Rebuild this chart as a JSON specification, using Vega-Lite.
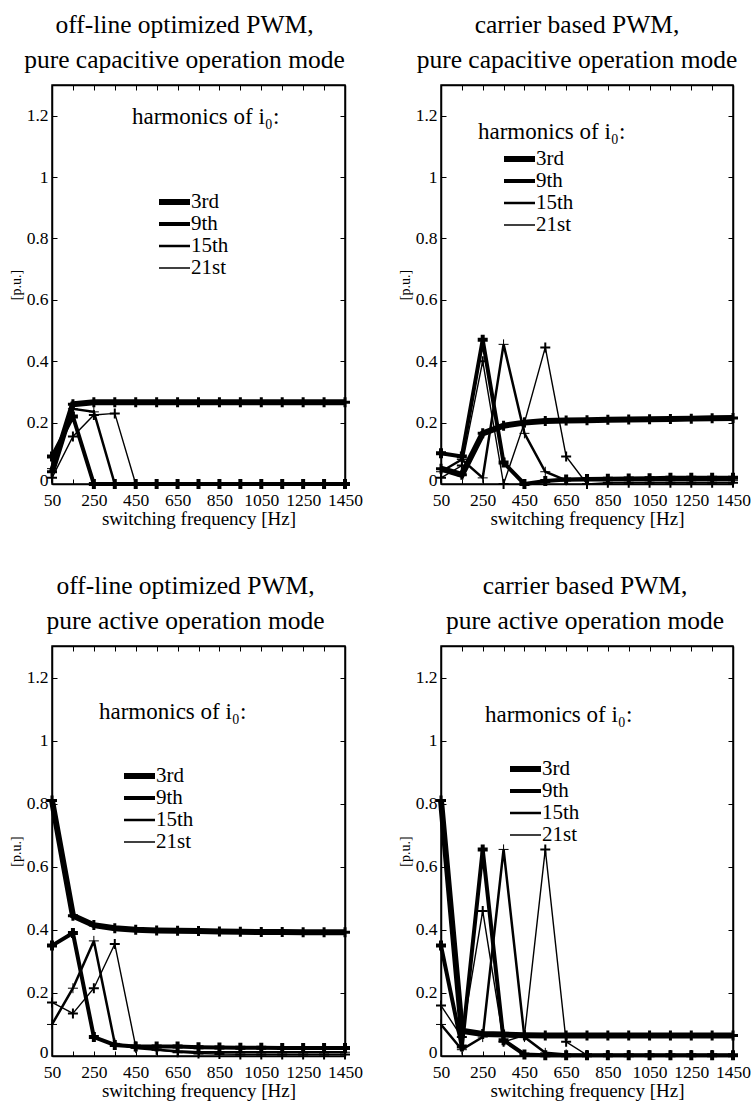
{
  "$schema": "https://vega.github.io/schema/vega-lite/v6.json",
  "background": "white",
  "padding": {"left": 8, "top": 12, "right": 0, "bottom": 0},
  "datasets": {
    "harm": [
      {"panel":"ocap","harmonic":"3rd","f":50,"v":0.04},{"panel":"ocap","harmonic":"3rd","f":150,"v":0.26},{"panel":"ocap","harmonic":"3rd","f":250,"v":0.266},{"panel":"ocap","harmonic":"3rd","f":350,"v":0.266},{"panel":"ocap","harmonic":"3rd","f":450,"v":0.266},{"panel":"ocap","harmonic":"3rd","f":550,"v":0.266},{"panel":"ocap","harmonic":"3rd","f":650,"v":0.266},{"panel":"ocap","harmonic":"3rd","f":750,"v":0.266},{"panel":"ocap","harmonic":"3rd","f":850,"v":0.266},{"panel":"ocap","harmonic":"3rd","f":950,"v":0.266},{"panel":"ocap","harmonic":"3rd","f":1050,"v":0.266},{"panel":"ocap","harmonic":"3rd","f":1150,"v":0.266},{"panel":"ocap","harmonic":"3rd","f":1250,"v":0.266},{"panel":"ocap","harmonic":"3rd","f":1350,"v":0.266},{"panel":"ocap","harmonic":"3rd","f":1450,"v":0.266},
      {"panel":"ocap","harmonic":"9th","f":50,"v":0.09},{"panel":"ocap","harmonic":"9th","f":150,"v":0.22},{"panel":"ocap","harmonic":"9th","f":250,"v":0.0},{"panel":"ocap","harmonic":"9th","f":350,"v":0.0},{"panel":"ocap","harmonic":"9th","f":450,"v":0.0},{"panel":"ocap","harmonic":"9th","f":550,"v":0.0},{"panel":"ocap","harmonic":"9th","f":650,"v":0.0},{"panel":"ocap","harmonic":"9th","f":750,"v":0.0},{"panel":"ocap","harmonic":"9th","f":850,"v":0.0},{"panel":"ocap","harmonic":"9th","f":950,"v":0.0},{"panel":"ocap","harmonic":"9th","f":1050,"v":0.0},{"panel":"ocap","harmonic":"9th","f":1150,"v":0.0},{"panel":"ocap","harmonic":"9th","f":1250,"v":0.0},{"panel":"ocap","harmonic":"9th","f":1350,"v":0.0},{"panel":"ocap","harmonic":"9th","f":1450,"v":0.0},
      {"panel":"ocap","harmonic":"15th","f":50,"v":0.05},{"panel":"ocap","harmonic":"15th","f":150,"v":0.245},{"panel":"ocap","harmonic":"15th","f":250,"v":0.235},{"panel":"ocap","harmonic":"15th","f":350,"v":0.0},{"panel":"ocap","harmonic":"15th","f":450,"v":0.0},{"panel":"ocap","harmonic":"15th","f":550,"v":0.0},{"panel":"ocap","harmonic":"15th","f":650,"v":0.0},{"panel":"ocap","harmonic":"15th","f":750,"v":0.0},{"panel":"ocap","harmonic":"15th","f":850,"v":0.0},{"panel":"ocap","harmonic":"15th","f":950,"v":0.0},{"panel":"ocap","harmonic":"15th","f":1050,"v":0.0},{"panel":"ocap","harmonic":"15th","f":1150,"v":0.0},{"panel":"ocap","harmonic":"15th","f":1250,"v":0.0},{"panel":"ocap","harmonic":"15th","f":1350,"v":0.0},{"panel":"ocap","harmonic":"15th","f":1450,"v":0.0},
      {"panel":"ocap","harmonic":"21st","f":50,"v":0.02},{"panel":"ocap","harmonic":"21st","f":150,"v":0.155},{"panel":"ocap","harmonic":"21st","f":250,"v":0.225},{"panel":"ocap","harmonic":"21st","f":350,"v":0.23},{"panel":"ocap","harmonic":"21st","f":450,"v":0.0},{"panel":"ocap","harmonic":"21st","f":550,"v":0.0},{"panel":"ocap","harmonic":"21st","f":650,"v":0.0},{"panel":"ocap","harmonic":"21st","f":750,"v":0.0},{"panel":"ocap","harmonic":"21st","f":850,"v":0.0},{"panel":"ocap","harmonic":"21st","f":950,"v":0.0},{"panel":"ocap","harmonic":"21st","f":1050,"v":0.0},{"panel":"ocap","harmonic":"21st","f":1150,"v":0.0},{"panel":"ocap","harmonic":"21st","f":1250,"v":0.0},{"panel":"ocap","harmonic":"21st","f":1350,"v":0.0},{"panel":"ocap","harmonic":"21st","f":1450,"v":0.0},

      {"panel":"ccap","harmonic":"3rd","f":50,"v":0.05},{"panel":"ccap","harmonic":"3rd","f":150,"v":0.03},{"panel":"ccap","harmonic":"3rd","f":250,"v":0.165},{"panel":"ccap","harmonic":"3rd","f":350,"v":0.19},{"panel":"ccap","harmonic":"3rd","f":450,"v":0.2},{"panel":"ccap","harmonic":"3rd","f":550,"v":0.205},{"panel":"ccap","harmonic":"3rd","f":650,"v":0.207},{"panel":"ccap","harmonic":"3rd","f":750,"v":0.208},{"panel":"ccap","harmonic":"3rd","f":850,"v":0.209},{"panel":"ccap","harmonic":"3rd","f":950,"v":0.21},{"panel":"ccap","harmonic":"3rd","f":1050,"v":0.211},{"panel":"ccap","harmonic":"3rd","f":1150,"v":0.212},{"panel":"ccap","harmonic":"3rd","f":1250,"v":0.213},{"panel":"ccap","harmonic":"3rd","f":1350,"v":0.214},{"panel":"ccap","harmonic":"3rd","f":1450,"v":0.215},
      {"panel":"ccap","harmonic":"9th","f":50,"v":0.1},{"panel":"ccap","harmonic":"9th","f":150,"v":0.09},{"panel":"ccap","harmonic":"9th","f":250,"v":0.47},{"panel":"ccap","harmonic":"9th","f":350,"v":0.07},{"panel":"ccap","harmonic":"9th","f":450,"v":0.0},{"panel":"ccap","harmonic":"9th","f":550,"v":0.01},{"panel":"ccap","harmonic":"9th","f":650,"v":0.015},{"panel":"ccap","harmonic":"9th","f":750,"v":0.016},{"panel":"ccap","harmonic":"9th","f":850,"v":0.017},{"panel":"ccap","harmonic":"9th","f":950,"v":0.018},{"panel":"ccap","harmonic":"9th","f":1050,"v":0.019},{"panel":"ccap","harmonic":"9th","f":1150,"v":0.02},{"panel":"ccap","harmonic":"9th","f":1250,"v":0.02},{"panel":"ccap","harmonic":"9th","f":1350,"v":0.02},{"panel":"ccap","harmonic":"9th","f":1450,"v":0.02},
      {"panel":"ccap","harmonic":"15th","f":50,"v":0.04},{"panel":"ccap","harmonic":"15th","f":150,"v":0.08},{"panel":"ccap","harmonic":"15th","f":250,"v":0.02},{"panel":"ccap","harmonic":"15th","f":350,"v":0.455},{"panel":"ccap","harmonic":"15th","f":450,"v":0.165},{"panel":"ccap","harmonic":"15th","f":550,"v":0.04},{"panel":"ccap","harmonic":"15th","f":650,"v":0.012},{"panel":"ccap","harmonic":"15th","f":750,"v":0.012},{"panel":"ccap","harmonic":"15th","f":850,"v":0.012},{"panel":"ccap","harmonic":"15th","f":950,"v":0.012},{"panel":"ccap","harmonic":"15th","f":1050,"v":0.012},{"panel":"ccap","harmonic":"15th","f":1150,"v":0.012},{"panel":"ccap","harmonic":"15th","f":1250,"v":0.012},{"panel":"ccap","harmonic":"15th","f":1350,"v":0.012},{"panel":"ccap","harmonic":"15th","f":1450,"v":0.012},
      {"panel":"ccap","harmonic":"21st","f":50,"v":0.02},{"panel":"ccap","harmonic":"21st","f":150,"v":0.06},{"panel":"ccap","harmonic":"21st","f":250,"v":0.4},{"panel":"ccap","harmonic":"21st","f":350,"v":0.0},{"panel":"ccap","harmonic":"21st","f":450,"v":0.2},{"panel":"ccap","harmonic":"21st","f":550,"v":0.445},{"panel":"ccap","harmonic":"21st","f":650,"v":0.09},{"panel":"ccap","harmonic":"21st","f":750,"v":0.0},{"panel":"ccap","harmonic":"21st","f":850,"v":0.004},{"panel":"ccap","harmonic":"21st","f":950,"v":0.004},{"panel":"ccap","harmonic":"21st","f":1050,"v":0.004},{"panel":"ccap","harmonic":"21st","f":1150,"v":0.004},{"panel":"ccap","harmonic":"21st","f":1250,"v":0.004},{"panel":"ccap","harmonic":"21st","f":1350,"v":0.004},{"panel":"ccap","harmonic":"21st","f":1450,"v":0.004},

      {"panel":"oact","harmonic":"3rd","f":50,"v":0.81},{"panel":"oact","harmonic":"3rd","f":150,"v":0.445},{"panel":"oact","harmonic":"3rd","f":250,"v":0.415},{"panel":"oact","harmonic":"3rd","f":350,"v":0.405},{"panel":"oact","harmonic":"3rd","f":450,"v":0.4},{"panel":"oact","harmonic":"3rd","f":550,"v":0.398},{"panel":"oact","harmonic":"3rd","f":650,"v":0.397},{"panel":"oact","harmonic":"3rd","f":750,"v":0.396},{"panel":"oact","harmonic":"3rd","f":850,"v":0.395},{"panel":"oact","harmonic":"3rd","f":950,"v":0.394},{"panel":"oact","harmonic":"3rd","f":1050,"v":0.393},{"panel":"oact","harmonic":"3rd","f":1150,"v":0.393},{"panel":"oact","harmonic":"3rd","f":1250,"v":0.392},{"panel":"oact","harmonic":"3rd","f":1350,"v":0.392},{"panel":"oact","harmonic":"3rd","f":1450,"v":0.392},
      {"panel":"oact","harmonic":"9th","f":50,"v":0.35},{"panel":"oact","harmonic":"9th","f":150,"v":0.39},{"panel":"oact","harmonic":"9th","f":250,"v":0.06},{"panel":"oact","harmonic":"9th","f":350,"v":0.035},{"panel":"oact","harmonic":"9th","f":450,"v":0.03},{"panel":"oact","harmonic":"9th","f":550,"v":0.03},{"panel":"oact","harmonic":"9th","f":650,"v":0.03},{"panel":"oact","harmonic":"9th","f":750,"v":0.028},{"panel":"oact","harmonic":"9th","f":850,"v":0.027},{"panel":"oact","harmonic":"9th","f":950,"v":0.026},{"panel":"oact","harmonic":"9th","f":1050,"v":0.026},{"panel":"oact","harmonic":"9th","f":1150,"v":0.025},{"panel":"oact","harmonic":"9th","f":1250,"v":0.025},{"panel":"oact","harmonic":"9th","f":1350,"v":0.025},{"panel":"oact","harmonic":"9th","f":1450,"v":0.025},
      {"panel":"oact","harmonic":"15th","f":50,"v":0.1},{"panel":"oact","harmonic":"15th","f":150,"v":0.215},{"panel":"oact","harmonic":"15th","f":250,"v":0.365},{"panel":"oact","harmonic":"15th","f":350,"v":0.04},{"panel":"oact","harmonic":"15th","f":450,"v":0.025},{"panel":"oact","harmonic":"15th","f":550,"v":0.02},{"panel":"oact","harmonic":"15th","f":650,"v":0.015},{"panel":"oact","harmonic":"15th","f":750,"v":0.012},{"panel":"oact","harmonic":"15th","f":850,"v":0.012},{"panel":"oact","harmonic":"15th","f":950,"v":0.012},{"panel":"oact","harmonic":"15th","f":1050,"v":0.012},{"panel":"oact","harmonic":"15th","f":1150,"v":0.012},{"panel":"oact","harmonic":"15th","f":1250,"v":0.012},{"panel":"oact","harmonic":"15th","f":1350,"v":0.012},{"panel":"oact","harmonic":"15th","f":1450,"v":0.012},
      {"panel":"oact","harmonic":"21st","f":50,"v":0.17},{"panel":"oact","harmonic":"21st","f":150,"v":0.135},{"panel":"oact","harmonic":"21st","f":250,"v":0.215},{"panel":"oact","harmonic":"21st","f":350,"v":0.355},{"panel":"oact","harmonic":"21st","f":450,"v":0.03},{"panel":"oact","harmonic":"21st","f":550,"v":0.02},{"panel":"oact","harmonic":"21st","f":650,"v":0.012},{"panel":"oact","harmonic":"21st","f":750,"v":0.008},{"panel":"oact","harmonic":"21st","f":850,"v":0.006},{"panel":"oact","harmonic":"21st","f":950,"v":0.005},{"panel":"oact","harmonic":"21st","f":1050,"v":0.005},{"panel":"oact","harmonic":"21st","f":1150,"v":0.005},{"panel":"oact","harmonic":"21st","f":1250,"v":0.005},{"panel":"oact","harmonic":"21st","f":1350,"v":0.005},{"panel":"oact","harmonic":"21st","f":1450,"v":0.005},

      {"panel":"cact","harmonic":"3rd","f":50,"v":0.81},{"panel":"cact","harmonic":"3rd","f":150,"v":0.08},{"panel":"cact","harmonic":"3rd","f":250,"v":0.07},{"panel":"cact","harmonic":"3rd","f":350,"v":0.068},{"panel":"cact","harmonic":"3rd","f":450,"v":0.066},{"panel":"cact","harmonic":"3rd","f":550,"v":0.065},{"panel":"cact","harmonic":"3rd","f":650,"v":0.065},{"panel":"cact","harmonic":"3rd","f":750,"v":0.065},{"panel":"cact","harmonic":"3rd","f":850,"v":0.065},{"panel":"cact","harmonic":"3rd","f":950,"v":0.065},{"panel":"cact","harmonic":"3rd","f":1050,"v":0.065},{"panel":"cact","harmonic":"3rd","f":1150,"v":0.065},{"panel":"cact","harmonic":"3rd","f":1250,"v":0.065},{"panel":"cact","harmonic":"3rd","f":1350,"v":0.065},{"panel":"cact","harmonic":"3rd","f":1450,"v":0.065},
      {"panel":"cact","harmonic":"9th","f":50,"v":0.35},{"panel":"cact","harmonic":"9th","f":150,"v":0.03},{"panel":"cact","harmonic":"9th","f":250,"v":0.655},{"panel":"cact","harmonic":"9th","f":350,"v":0.05},{"panel":"cact","harmonic":"9th","f":450,"v":0.005},{"panel":"cact","harmonic":"9th","f":550,"v":0.002},{"panel":"cact","harmonic":"9th","f":650,"v":0.002},{"panel":"cact","harmonic":"9th","f":750,"v":0.002},{"panel":"cact","harmonic":"9th","f":850,"v":0.002},{"panel":"cact","harmonic":"9th","f":950,"v":0.002},{"panel":"cact","harmonic":"9th","f":1050,"v":0.002},{"panel":"cact","harmonic":"9th","f":1150,"v":0.002},{"panel":"cact","harmonic":"9th","f":1250,"v":0.002},{"panel":"cact","harmonic":"9th","f":1350,"v":0.002},{"panel":"cact","harmonic":"9th","f":1450,"v":0.002},
      {"panel":"cact","harmonic":"15th","f":50,"v":0.1},{"panel":"cact","harmonic":"15th","f":150,"v":0.02},{"panel":"cact","harmonic":"15th","f":250,"v":0.06},{"panel":"cact","harmonic":"15th","f":350,"v":0.655},{"panel":"cact","harmonic":"15th","f":450,"v":0.06},{"panel":"cact","harmonic":"15th","f":550,"v":0.01},{"panel":"cact","harmonic":"15th","f":650,"v":0.005},{"panel":"cact","harmonic":"15th","f":750,"v":0.003},{"panel":"cact","harmonic":"15th","f":850,"v":0.003},{"panel":"cact","harmonic":"15th","f":950,"v":0.003},{"panel":"cact","harmonic":"15th","f":1050,"v":0.003},{"panel":"cact","harmonic":"15th","f":1150,"v":0.003},{"panel":"cact","harmonic":"15th","f":1250,"v":0.003},{"panel":"cact","harmonic":"15th","f":1350,"v":0.003},{"panel":"cact","harmonic":"15th","f":1450,"v":0.003},
      {"panel":"cact","harmonic":"21st","f":50,"v":0.16},{"panel":"cact","harmonic":"21st","f":150,"v":0.06},{"panel":"cact","harmonic":"21st","f":250,"v":0.46},{"panel":"cact","harmonic":"21st","f":350,"v":0.045},{"panel":"cact","harmonic":"21st","f":450,"v":0.065},{"panel":"cact","harmonic":"21st","f":550,"v":0.655},{"panel":"cact","harmonic":"21st","f":650,"v":0.045},{"panel":"cact","harmonic":"21st","f":750,"v":0.003},{"panel":"cact","harmonic":"21st","f":850,"v":0.003},{"panel":"cact","harmonic":"21st","f":950,"v":0.003},{"panel":"cact","harmonic":"21st","f":1050,"v":0.003},{"panel":"cact","harmonic":"21st","f":1150,"v":0.003},{"panel":"cact","harmonic":"21st","f":1250,"v":0.003},{"panel":"cact","harmonic":"21st","f":1350,"v":0.003},{"panel":"cact","harmonic":"21st","f":1450,"v":0.003}
    ]
  },
  "columns": 2,
  "spacing": {"row": 162, "column": 96},
  "bounds": "flush",
  "concat": [
    {
      "title": {"text": ["off-line optimized PWM,", "pure capacitive operation mode"], "dx": -14},
      "width": 293, "height": 399,
      "data": {"name": "harm"},
      "transform": [{"filter": "datum.panel === 'ocap'"}],
      "layer": [
        {
          "mark": {"type": "line", "color": "black", "strokeJoin": "miter", "strokeMiterLimit": 3},
          "encoding": {
            "x": {"field": "f", "type": "quantitative", "scale": {"domain": [50, 1450], "nice": false, "zero": false},
                  "axis": {"orient": "bottom", "title": "switching frequency [Hz]", "format": "d", "values": [50,150,250,350,450,550,650,750,850,950,1050,1150,1250,1350,1450], "labelExpr": "(datum.value - 50) % 200 === 0 ? datum.label : ''"}},
            "y": {"field": "v", "type": "quantitative", "scale": {"domain": [0, 1.3], "nice": false},
                  "axis": {"orient": "left", "title": "[p.u.]", "values": [0,0.2,0.4,0.6,0.8,1,1.2], "format": "~g", "labelOffset": {"condition": {"test": "datum.value === 0", "value": -4}, "value": 0}}},
            "strokeWidth": {"field": "harmonic", "type": "ordinal",
                  "scale": {"type": "ordinal", "domain": ["3rd","9th","15th","21st"], "range": [6, 4, 2.5, 1.4]},
                  "legend": {"title": "harmonics of i₀:", "legendX": 80, "legendY": 21, "titlePadding": 62, "symbolOffset": 24}}
          }
        },
        {
          "mark": {"type": "point", "shape": "M-1,0H1M0,-1V1", "filled": false, "size": 100, "color": "black", "opacity": 1},
          "encoding": {
            "x": {"field": "f", "type": "quantitative", "axis": {"orient": "top", "title": null, "labels": false, "values": [50,150,250,350,450,550,650,750,850,950,1050,1150,1250,1350,1450]}},
            "y": {"field": "v", "type": "quantitative", "axis": {"orient": "right", "title": null, "labels": false, "values": [0,0.2,0.4,0.6,0.8,1,1.2]}},
            "strokeWidth": {"field": "harmonic", "type": "ordinal", "legend": null}
          }
        }
      ],
      "resolve": {"axis": {"x": "independent", "y": "independent"}}
    },
    {
      "title": {"text": ["carrier based PWM,", "pure capacitive operation mode"], "dx": -10},
      "width": 292, "height": 399,
      "data": {"name": "harm"},
      "transform": [{"filter": "datum.panel === 'ccap'"}],
      "layer": [
        {
          "mark": {"type": "line", "color": "black", "strokeJoin": "miter", "strokeMiterLimit": 3},
          "encoding": {
            "x": {"field": "f", "type": "quantitative", "scale": {"domain": [50, 1450], "nice": false, "zero": false},
                  "axis": {"orient": "bottom", "title": "switching frequency [Hz]", "format": "d", "values": [50,150,250,350,450,550,650,750,850,950,1050,1150,1250,1350,1450], "labelExpr": "(datum.value - 50) % 200 === 0 ? datum.label : ''"}},
            "y": {"field": "v", "type": "quantitative", "scale": {"domain": [0, 1.3], "nice": false},
                  "axis": {"orient": "left", "title": "[p.u.]", "values": [0,0.2,0.4,0.6,0.8,1,1.2], "format": "~g", "labelOffset": {"condition": {"test": "datum.value === 0", "value": -4}, "value": 0}}},
            "strokeWidth": {"field": "harmonic", "type": "ordinal",
                  "scale": {"type": "ordinal", "domain": ["3rd","9th","15th","21st"], "range": [6, 4, 2.5, 1.4]},
                  "legend": {"title": "harmonics of i₀:", "legendX": 37, "legendY": 36, "titlePadding": 4, "symbolOffset": 23}}
          }
        },
        {
          "mark": {"type": "point", "shape": "M-1,0H1M0,-1V1", "filled": false, "size": 100, "color": "black", "opacity": 1},
          "encoding": {
            "x": {"field": "f", "type": "quantitative", "axis": {"orient": "top", "title": null, "labels": false, "values": [50,150,250,350,450,550,650,750,850,950,1050,1150,1250,1350,1450]}},
            "y": {"field": "v", "type": "quantitative", "axis": {"orient": "right", "title": null, "labels": false, "values": [0,0.2,0.4,0.6,0.8,1,1.2]}},
            "strokeWidth": {"field": "harmonic", "type": "ordinal", "legend": null}
          }
        }
      ],
      "resolve": {"axis": {"x": "independent", "y": "independent"}}
    },
    {
      "title": {"text": ["off-line optimized PWM,", "pure active operation mode"], "dx": -13},
      "width": 293, "height": 410,
      "data": {"name": "harm"},
      "transform": [{"filter": "datum.panel === 'oact'"}],
      "layer": [
        {
          "mark": {"type": "line", "color": "black", "strokeJoin": "miter", "strokeMiterLimit": 3},
          "encoding": {
            "x": {"field": "f", "type": "quantitative", "scale": {"domain": [50, 1450], "nice": false, "zero": false},
                  "axis": {"orient": "bottom", "title": "switching frequency [Hz]", "format": "d", "values": [50,150,250,350,450,550,650,750,850,950,1050,1150,1250,1350,1450], "labelExpr": "(datum.value - 50) % 200 === 0 ? datum.label : ''"}},
            "y": {"field": "v", "type": "quantitative", "scale": {"domain": [0, 1.3], "nice": false},
                  "axis": {"orient": "left", "title": "[p.u.]", "values": [0,0.2,0.4,0.6,0.8,1,1.2], "format": "~g", "labelOffset": {"condition": {"test": "datum.value === 0", "value": -4}, "value": 0}}},
            "strokeWidth": {"field": "harmonic", "type": "ordinal",
                  "scale": {"type": "ordinal", "domain": ["3rd","9th","15th","21st"], "range": [6, 4, 2.5, 1.4]},
                  "legend": {"title": "harmonics of i₀:", "legendX": 47, "legendY": 55, "titlePadding": 41, "symbolOffset": 22}}
          }
        },
        {
          "mark": {"type": "point", "shape": "M-1,0H1M0,-1V1", "filled": false, "size": 100, "color": "black", "opacity": 1},
          "encoding": {
            "x": {"field": "f", "type": "quantitative", "axis": {"orient": "top", "title": null, "labels": false, "values": [50,150,250,350,450,550,650,750,850,950,1050,1150,1250,1350,1450]}},
            "y": {"field": "v", "type": "quantitative", "axis": {"orient": "right", "title": null, "labels": false, "values": [0,0.2,0.4,0.6,0.8,1,1.2]}},
            "strokeWidth": {"field": "harmonic", "type": "ordinal", "legend": null}
          }
        }
      ],
      "resolve": {"axis": {"x": "independent", "y": "independent"}}
    },
    {
      "title": {"text": ["carrier based PWM,", "pure active operation mode"], "dx": -2},
      "width": 292, "height": 410,
      "data": {"name": "harm"},
      "transform": [{"filter": "datum.panel === 'cact'"}],
      "layer": [
        {
          "mark": {"type": "line", "color": "black", "strokeJoin": "miter", "strokeMiterLimit": 3},
          "encoding": {
            "x": {"field": "f", "type": "quantitative", "scale": {"domain": [50, 1450], "nice": false, "zero": false},
                  "axis": {"orient": "bottom", "title": "switching frequency [Hz]", "format": "d", "values": [50,150,250,350,450,550,650,750,850,950,1050,1150,1250,1350,1450], "labelExpr": "(datum.value - 50) % 200 === 0 ? datum.label : ''"}},
            "y": {"field": "v", "type": "quantitative", "scale": {"domain": [0, 1.3], "nice": false},
                  "axis": {"orient": "left", "title": "[p.u.]", "values": [0,0.2,0.4,0.6,0.8,1,1.2], "format": "~g", "labelOffset": {"condition": {"test": "datum.value === 0", "value": -4}, "value": 0}}},
            "strokeWidth": {"field": "harmonic", "type": "ordinal",
                  "scale": {"type": "ordinal", "domain": ["3rd","9th","15th","21st"], "range": [6, 4, 2.5, 1.4]},
                  "legend": {"title": "harmonics of i₀:", "legendX": 44, "legendY": 58, "titlePadding": 31, "symbolOffset": 22}}
          }
        },
        {
          "mark": {"type": "point", "shape": "M-1,0H1M0,-1V1", "filled": false, "size": 100, "color": "black", "opacity": 1},
          "encoding": {
            "x": {"field": "f", "type": "quantitative", "axis": {"orient": "top", "title": null, "labels": false, "values": [50,150,250,350,450,550,650,750,850,950,1050,1150,1250,1350,1450]}},
            "y": {"field": "v", "type": "quantitative", "axis": {"orient": "right", "title": null, "labels": false, "values": [0,0.2,0.4,0.6,0.8,1,1.2]}},
            "strokeWidth": {"field": "harmonic", "type": "ordinal", "legend": null}
          }
        }
      ],
      "resolve": {"axis": {"x": "independent", "y": "independent"}}
    }
  ],
  "resolve": {"legend": {"strokeWidth": "independent"}, "scale": {"strokeWidth": "independent"}},
  "config": {
    "font": "Liberation Serif",
    "view": {"stroke": "black", "strokeWidth": 1.5},
    "title": {"font": "Liberation Serif", "fontSize": 25.5, "fontWeight": "normal", "color": "black", "lineHeight": 35, "offset": 11, "anchor": "middle", "frame": "group"},
    "axis": {
      "grid": false,
      "domainColor": "black", "domainWidth": 1.5,
      "tickColor": "black", "tickWidth": 1, "tickSize": -5,
      "labelFont": "Liberation Serif", "labelFontSize": 17.5, "labelColor": "black", "labelPadding": 9,
      "labelFlush": false, "labelOverlap": false, "labelBound": false,
      "titleFont": "Liberation Serif", "titleFontWeight": "normal", "titleColor": "black"
    },
    "axisX": {"titleFontSize": 19, "titlePadding": 1, "labelPadding": 12},
    "axisY": {"titleFontSize": 14, "titlePadding": 3},
    "legend": {
      "orient": "none",
      "titleFont": "Liberation Serif", "titleFontSize": 23, "titleFontWeight": "normal", "titleColor": "black", "titleLimit": 300,
      "labelFont": "Liberation Serif", "labelFontSize": 21, "labelColor": "black", "labelOffset": -2,
      "symbolType": "stroke", "symbolSize": 961, "symbolStrokeColor": "black", "clipHeight": 22, "rowPadding": 0, "padding": 0
    }
  }
}
